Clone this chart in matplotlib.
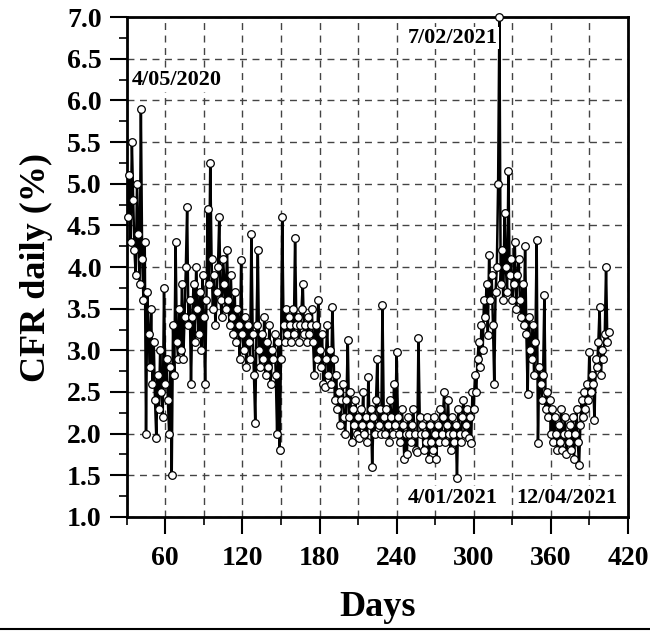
import numpy as np
import matplotlib
matplotlib.use('Agg')
import matplotlib.pyplot as plt
from matplotlib.ticker import MultipleLocator, FormatStrFormatter
from matplotlib.lines import Line2D

# daily CFR (%), one value per day starting at day 31
start_day = 31
cfr = [
    4.6, 5.1, 4.3, 5.5, 4.8, 4.2, 3.9, 5.0, 4.4, 3.8,
    5.9, 4.1, 3.6, 4.3, 2.0, 3.7, 3.2, 2.8, 3.5, 2.6,
    3.1, 2.4, 1.95, 2.7, 2.3, 3.0, 2.5, 2.2, 3.75, 2.6,
    2.9, 2.4, 2.0, 2.8, 1.5, 3.3, 2.7, 4.3, 3.1, 2.9,
    3.5, 3.0, 3.8, 2.9, 3.4, 4.0, 4.72, 3.3, 3.6, 2.6,
    3.4, 3.8, 3.1, 4.0, 3.5, 3.2, 3.7, 3.0, 3.9, 3.4,
    2.6, 3.6, 4.7, 3.8, 5.25, 4.1, 3.5, 3.9, 3.3, 3.7,
    4.0, 4.6, 3.6, 3.4, 4.1, 3.8, 3.5, 4.2, 3.6, 3.3,
    3.9, 3.4, 3.2, 3.7, 3.1, 3.5, 3.3, 2.9, 4.08, 3.2,
    3.0, 3.4, 2.8, 3.3, 3.1, 2.9, 4.4, 3.2, 2.7, 2.13,
    3.3, 4.2, 3.0, 2.8, 3.2, 2.9, 3.4, 2.7, 3.1, 2.8,
    3.3, 2.6, 3.0, 2.9, 3.2, 2.7, 2.0, 3.1, 1.8, 2.9,
    4.6, 3.3, 3.1, 3.5, 3.2, 3.4, 3.3, 3.1, 3.5, 3.2,
    4.35, 3.3, 3.4, 3.1, 3.3, 3.5, 3.8, 3.2, 3.3, 3.1,
    3.4, 3.2, 3.3, 3.5, 3.1, 2.7, 3.3, 2.9, 3.6, 3.0,
    2.8, 3.2, 2.6, 2.56, 2.9, 3.3, 2.7, 3.0, 2.6, 3.52,
    2.9, 2.4, 2.7, 2.3, 2.5, 2.1, 2.4, 2.6, 2.2, 2.0,
    2.4, 3.13, 2.2, 2.5, 1.9, 2.3, 2.1, 2.4, 2.0, 2.2,
    1.95, 2.3, 2.1, 2.5, 2.0, 2.2, 1.9, 2.68, 2.1, 2.3,
    1.6, 2.2, 2.0, 2.4, 2.9, 2.1, 2.3, 2.0, 3.55, 2.2,
    2.0, 2.3, 2.1, 1.9, 2.4, 2.2, 2.0, 2.6, 2.1, 2.98,
    2.2, 2.0, 1.9, 2.3, 2.1, 1.7, 2.0, 1.75, 2.2, 2.0,
    1.9, 2.1, 2.3, 2.0, 1.8, 1.78, 3.15, 2.2, 2.0, 2.1,
    1.8, 2.0, 1.9, 2.2, 1.7, 2.1, 1.9, 1.8, 2.2, 2.0,
    1.7, 2.1, 1.9, 2.3, 2.0, 2.2, 2.5, 1.9, 2.1, 2.4,
    2.0, 1.8, 2.2, 2.0, 1.9, 2.1, 1.47, 2.3, 2.0, 1.9,
    2.2, 2.4, 2.0, 2.1, 2.3, 1.95, 2.2, 1.89, 2.5, 2.3,
    2.7, 2.5, 2.9, 3.1, 2.8, 3.3, 3.0, 3.6, 3.4, 3.8,
    3.18, 4.15, 3.6, 3.9, 3.3, 2.6, 3.7, 4.0, 5.0, 7.0,
    3.8, 4.2, 3.6, 4.65, 4.0, 3.7, 5.15, 3.9, 4.1, 3.6,
    3.8, 4.3, 3.5, 3.9, 4.1, 3.6, 3.4, 3.8, 3.3, 4.25,
    3.2, 2.48, 3.4, 3.0, 2.9, 3.3, 2.7, 3.1, 4.32, 1.89,
    2.8, 2.6, 2.4, 2.7, 3.66, 2.3, 2.5, 2.2, 2.4, 2.0,
    2.3, 1.9, 2.2, 2.0, 1.8, 2.1, 1.9, 2.3, 1.8, 2.0,
    2.2, 1.75, 2.0, 1.9, 2.1, 1.8, 2.2, 1.7, 2.0, 2.3,
    1.9, 1.62, 2.1, 2.4, 2.2, 2.5, 2.3, 2.6, 2.4, 2.98,
    2.5, 2.7, 2.6, 2.16, 2.9, 2.8, 3.1, 3.52, 2.7, 3.0,
    2.9, 3.2, 4.0, 3.1, 3.22,
]
days = np.arange(start_day, start_day + len(cfr))

# date labels: (text, day, value, alignment)
notes = [
    ('4/05/2020', 34, 6.24, 'left'),
    ('7/02/2021', 319, 6.75, 'right'),
    ('4/01/2021', 319, 1.23, 'right'),
    ('12/04/2021', 412, 1.23, 'right'),
]

plt.rcParams['font.family'] = ['Liberation Serif', 'DejaVu Serif']
plt.rcParams['font.weight'] = 'bold'

fig = plt.figure(figsize=(6.5, 6.32), dpi=100)
ax = fig.add_axes([0.195, 0.182, 0.771, 0.791])

ax.plot(days, cfr, color='black', lw=1.8, marker='o', markersize=5.5,
        markerfacecolor='white', markeredgecolor='black', markeredgewidth=0.9,
        zorder=5, clip_on=False)

ax.set_xlim(30, 420)
ax.set_ylim(1.0, 7.0)
ax.set_xticks([60, 120, 180, 240, 300, 360, 420])
ax.xaxis.set_minor_locator(MultipleLocator(30))
ax.yaxis.set_major_locator(MultipleLocator(0.5))
ax.yaxis.set_minor_locator(MultipleLocator(0.25))
ax.yaxis.set_major_formatter(FormatStrFormatter('%.1f'))

ax.grid(which='major', axis='y', color='#444444', ls=(0, (5, 4)), lw=1.0)
ax.grid(which='both', axis='x', color='#444444', ls=(0, (5, 4)), lw=1.0)

ax.tick_params(which='major', direction='out', length=12, width=1.5, labelsize=20)
ax.tick_params(which='minor', direction='out', length=6, width=1.2)
ax.tick_params(axis='y', which='major', pad=6)
ax.tick_params(axis='x', which='major', pad=9)
for s in ax.spines.values():
    s.set_linewidth(2.0)

ax.set_xlabel('Days', fontsize=26, fontweight='bold', labelpad=14)
ax.set_ylabel('CFR daily (%)', fontsize=26, fontweight='bold', labelpad=10)

for txt, x, y, ha in notes:
    ax.text(x, y, txt, fontsize=16, fontweight='bold', ha=ha, va='center', zorder=6,
            bbox=dict(facecolor='white', edgecolor='none', pad=1))

fig.add_artist(Line2D([0, 1], [0.004, 0.004], color='black', lw=1.5))

plt.savefig('out.png', dpi=100)
